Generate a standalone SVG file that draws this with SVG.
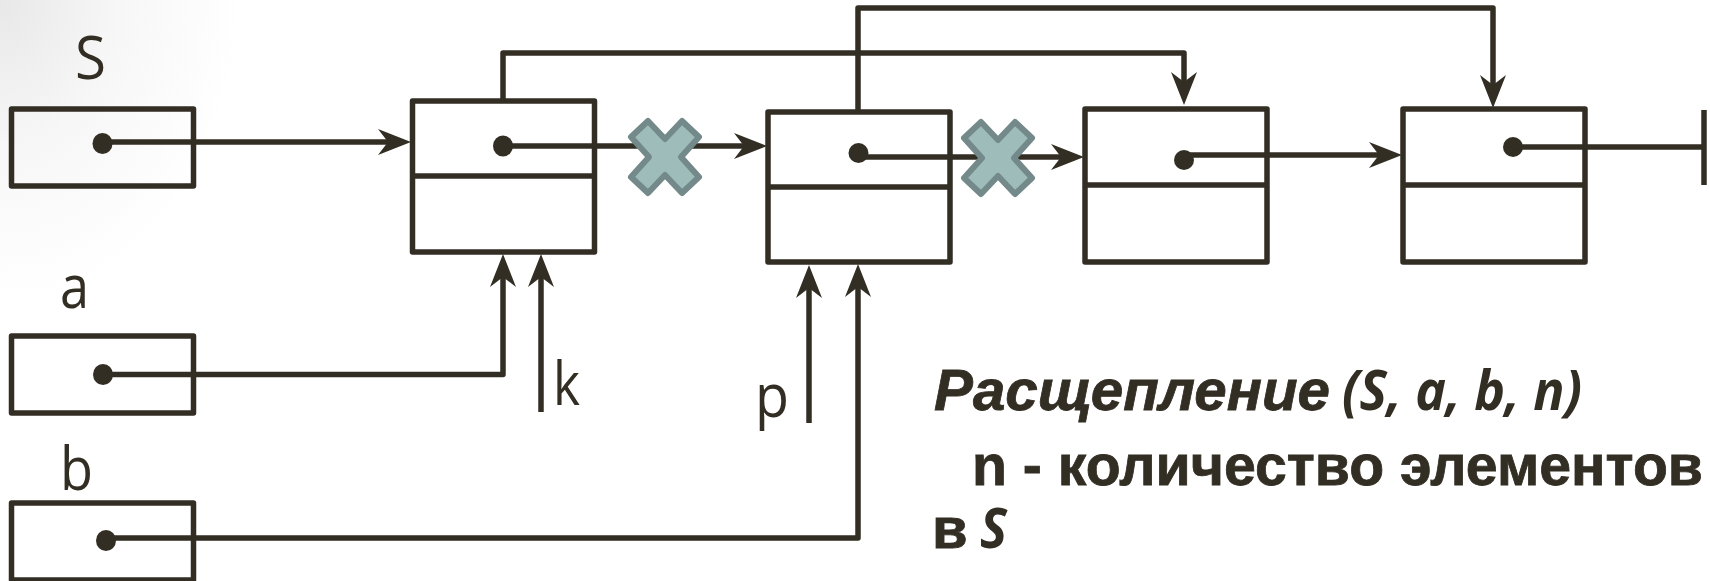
<svg xmlns="http://www.w3.org/2000/svg" width="1710" height="581" viewBox="0 0 1710 581">
<defs>
<radialGradient id="bg" gradientUnits="userSpaceOnUse" cx="0" cy="0" r="240" gradientTransform="translate(0 0) scale(1 1.25)">
<stop offset="0" stop-color="#e8e8e8"/><stop offset="0.5" stop-color="#f7f7f7"/><stop offset="1" stop-color="#ffffff"/>
</radialGradient>
<marker id="ah" markerUnits="userSpaceOnUse" markerWidth="38" markerHeight="28" refX="20" refY="13" orient="auto" overflow="visible">
<path d="M0 0L33 13L0 26L10 13Z" fill="#332e24"/>
</marker>
<path id="x" d="M-17 -36L0 -18L17 -36L34 -20L16 0L34 20L17 36L0 18L-17 36L-34 20L-16 0L-34 -20Z" fill="#9dbcba" stroke="#74898a" stroke-width="6" stroke-linejoin="round"/>
</defs>
<style>
.b{fill:none;stroke:#332e24;stroke-width:5.5;stroke-linejoin:round}
.c{fill:none;stroke:#332e24;stroke-width:5.5;stroke-linejoin:round}
.d{fill:#332e24}
.l{font-family:"Open Sans","Liberation Sans",sans-serif;font-size:60px;fill:#332e24}
.t{font-family:"Liberation Sans",sans-serif;font-weight:bold;font-size:58px;fill:#332e24;stroke:#332e24;stroke-width:0.8}
.o{font-family:"Open Sans","Liberation Sans",sans-serif;font-weight:bold;font-style:italic;font-size:56px;fill:#332e24}
.i{font-style:italic}
</style>
<rect width="1710" height="581" fill="#fff"/>
<rect width="300" height="320" fill="url(#bg)"/>
<g id="nodes">
<g id="S"><rect class="b" x="11.5" y="109" width="182" height="77"/><ellipse class="d" cx="102.5" cy="143.5" rx="10" ry="10.5"/></g>
<g id="a"><rect class="b" x="11.5" y="336" width="182" height="77"/><ellipse class="d" cx="103" cy="374.5" rx="10" ry="10.5"/></g>
<g id="b"><rect class="b" x="11.5" y="503" width="182" height="77"/><ellipse class="d" cx="106" cy="540.5" rx="10" ry="10.5"/></g>
<g id="n1"><rect class="b" x="412.5" y="101" width="182" height="151"/><path class="b" d="M412.5 176H594.5"/><ellipse class="d" cx="503" cy="146" rx="10" ry="10.5"/></g>
<g id="n2"><rect class="b" x="768" y="112" width="182" height="150"/><path class="b" d="M768 187H950"/><circle class="d" cx="858.5" cy="153" r="10"/></g>
<g id="n3"><rect class="b" x="1085" y="109" width="182" height="153"/><path class="b" d="M1085 185H1267"/><circle class="d" cx="1184" cy="160" r="10"/></g>
<g id="n4"><rect class="b" x="1403" y="109" width="182" height="153"/><path class="b" d="M1403 185H1585"/><circle class="d" cx="1513" cy="147" r="10"/></g>
</g>
<g id="connectors">
<path class="c" d="M102 142H398" marker-end="url(#ah)"/>
<path class="c" d="M503 146H754" marker-end="url(#ah)"/>
<path class="c" d="M858 157H1071" marker-end="url(#ah)"/>
<path class="c" d="M1184 155H1389" marker-end="url(#ah)"/>
<path class="c" d="M1513 147H1702"/>
<path class="c" d="M1704 110V185"/>
<path class="c" d="M503 101V53H1184V92" marker-end="url(#ah)"/>
<path class="c" d="M858 112V8H1493V95" marker-end="url(#ah)"/>
<path class="c" d="M103 374.5H503V267" marker-end="url(#ah)"/>
<path class="c" d="M541 412V267" marker-end="url(#ah)"/>
<path class="c" d="M809 423V278" marker-end="url(#ah)"/>
<path class="c" d="M106 538H858V277" marker-end="url(#ah)"/>
</g>
<g id="crosses">
<use href="#x" x="665" y="157"/>
<use href="#x" x="998" y="158"/>
</g>
<g id="labels">
<text class="l" x="75" y="79" textLength="31" lengthAdjust="spacingAndGlyphs">S</text>
<text class="l" x="60" y="308" textLength="29" lengthAdjust="spacingAndGlyphs">a</text>
<text class="l" x="60" y="490" textLength="33" lengthAdjust="spacingAndGlyphs">b</text>
<text class="l" x="553" y="405" textLength="27" lengthAdjust="spacingAndGlyphs">k</text>
<text class="l" x="755" y="417" textLength="34" lengthAdjust="spacingAndGlyphs">p</text>
<text class="t i" x="934" y="410" textLength="396" lengthAdjust="spacingAndGlyphs">Расщепление</text>
<text class="o" x="1342" y="410" textLength="240" lengthAdjust="spacingAndGlyphs">(S, a, b, n)</text>
<text class="t" x="972" y="485" textLength="731" lengthAdjust="spacingAndGlyphs">n - количество элементов</text>
<text class="t" x="932" y="548">в</text>
<text class="o" x="980" y="548" textLength="27" lengthAdjust="spacingAndGlyphs">S</text>
</g>
</svg>
